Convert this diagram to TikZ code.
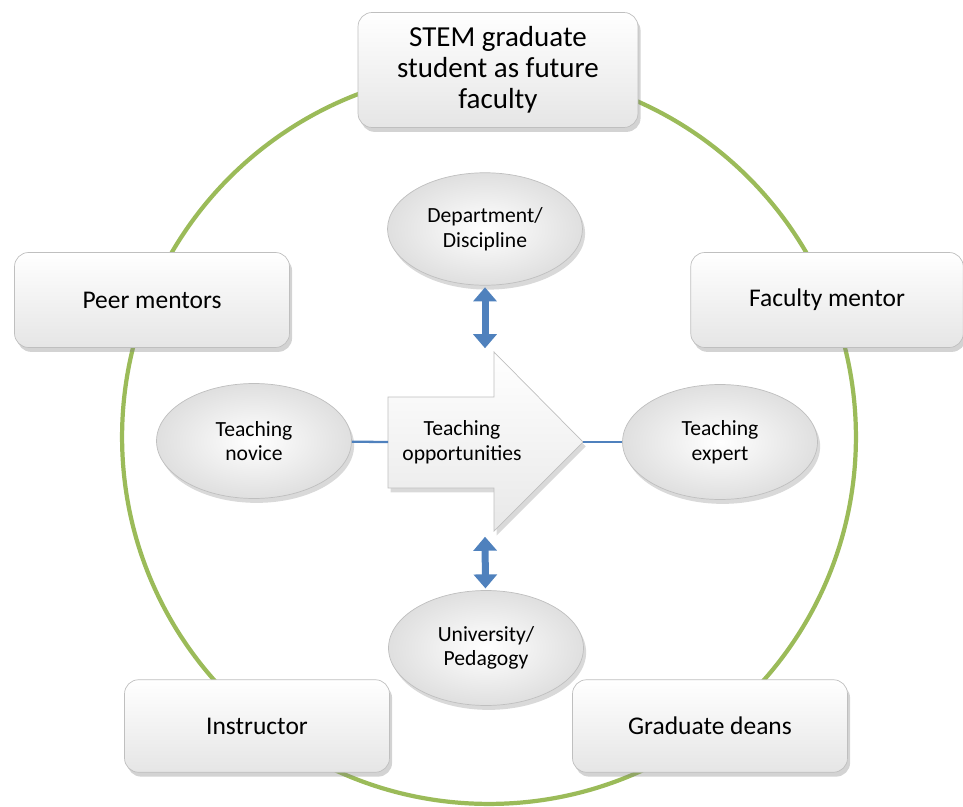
\documentclass[tikz,border=0pt]{standalone}
\usepackage{fontspec}
\setmainfont{Carlito}
\usetikzlibrary{shapes.geometric,shadows,arrows.meta,positioning}
\definecolor{ringgreen}{HTML}{9BBB59}
\definecolor{linkblue}{HTML}{4F81BD}

\begin{document}
\begin{tikzpicture}[x=0.02cm,y=-0.02cm]
    \tikzset{
        box/.style={rectangle, rounded corners=8pt, draw=gray!50, top color=white, bottom color=gray!20, drop shadow={opacity=0.35, shadow xshift=1.5pt, shadow yshift=-2.5pt}, minimum width=5.5cm, minimum height=1.9cm, align=center, font=\fontsize{14.5}{17}\selectfont},
        oval/.style={ellipse, draw=gray!50, inner color=white, outer color=gray!25, drop shadow={opacity=0.3, shadow xshift=1.5pt, shadow yshift=-2.5pt}, minimum width=3.9cm, minimum height=2.3cm, inner sep=0pt, align=center, font=\fontsize{12.3}{14}\selectfont},
        dbl/.style={{Triangle[width=0.46cm,length=0.28cm]}-{Triangle[width=0.46cm,length=0.28cm]}, line width=0.14cm, linkblue, shorten <=1pt, shorten >=1pt},
        link/.style={linkblue, line width=1.3pt},
    }
    \useasboundingbox (0,0) rectangle (963,807);

    % outer ring
    \draw[ringgreen, line width=2.4pt] (489,437) circle[radius=7.34cm];

    % people round the ring
    \node[box, minimum width=5.6cm, minimum height=2.3cm, font=\fontsize{16.5}{17.5}\selectfont] (stem) at (498,70) {STEM graduate\\student as future\\faculty};
    \node[box] (peer) at (152,300) {Peer mentors};
    \node[box, minimum width=5.45cm] (faculty) at (827,300) {Faculty mentor};
    \node[box, minimum width=5.3cm, minimum height=1.85cm] (instr) at (257,726) {Instructor};
    \node[box, minimum height=1.85cm] (deans) at (710,726) {Graduate deans};

    % inner ovals
    \node[oval, minimum height=2.25cm] (dept) at (485,229) {Department/\\Discipline};
    \node[oval] (novice) at (254,441) {Teaching\\novice};
    \node[oval] (expert) at (720,442) {Teaching\\expert};
    \node[oval] (univ) at (486,648) {University/\\Pedagogy};

    % big arrow
    \shade[top color=white, bottom color=gray!18, draw=gray!50, drop shadow={opacity=0.3, shadow xshift=1.5pt, shadow yshift=-2.5pt}]
        (388,397) -- (494,397) -- (494,352) -- (583,442) -- (494,531) -- (494,488) -- (388,488) -- cycle;
    \node[font=\fontsize{12.3}{14}\selectfont, align=center] (opp) at (462,442) {Teaching\\opportunities};
    \coordinate (tail) at (388,442);
    \coordinate (tip) at (583,442);
    \coordinate (up) at (485,350);
    \coordinate (down) at (485,535);

    \draw[link] (novice) -- (tail);
    \draw[link] (tip) -- (expert);
    \draw[dbl] (dept) -- (up);
    \draw[dbl] (down) -- (univ);
\end{tikzpicture}
\end{document}
